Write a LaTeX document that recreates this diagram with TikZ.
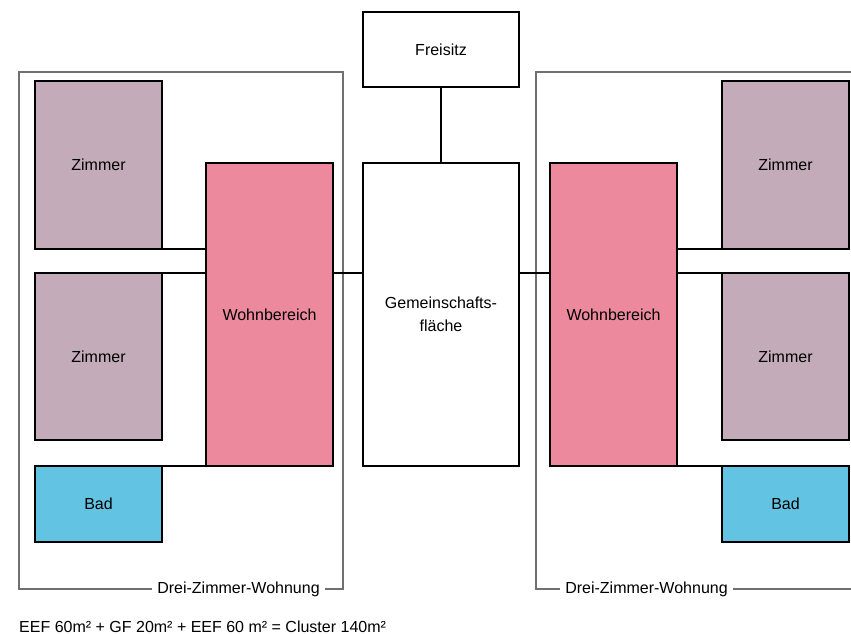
\documentclass[tikz,border=0pt]{standalone}
\usepackage{fontspec}
\setmainfont{Liberation Sans}
\definecolor{zimmerc}{HTML}{C3ABB9}
\definecolor{wohnc}{HTML}{EC899D}
\definecolor{badc}{HTML}{63C3E3}
\definecolor{framec}{HTML}{707070}
\tikzset{
  room/.style={draw=black, line width=1.5pt, inner sep=0pt, outer sep=0pt, align=center,
    font=\fontsize{16}{23}\selectfont},
  zimmerbox/.style={room, fill=zimmerc, minimum width=127pt, minimum height=168pt},
  badbox/.style={room, fill=badc, minimum width=127pt, minimum height=76pt},
  wohnbox/.style={room, fill=wohnc, minimum width=127pt, minimum height=303pt},
  gembox/.style={room, fill=white, minimum width=156pt, minimum height=303pt},
  freibox/.style={room, fill=white, minimum width=156pt, minimum height=75pt},
  link/.style={draw=black, line width=1.5pt},
  framel/.style={draw=framec, line width=1.2pt},
  flabel/.style={fill=white, inner xsep=5pt, inner ysep=2pt, font=\fontsize{16}{19}\selectfont}
}
\begin{document}
\begin{tikzpicture}[x=1pt, y=-1pt]
\useasboundingbox (0,0) rectangle (851,634);
% frames
\draw[framel] (19,72) rectangle (343,589);
\node[flabel] (lab1) at (238.5,589) {Drei-Zimmer-Wohnung};
\draw[framel] (851,72) -- (536,72) -- (536,589) -- (851,589);
\node[flabel] (lab2) at (646.5,589) {Drei-Zimmer-Wohnung};
% rooms
\node[zimmerbox] (z1) at (98.5,165) {Zimmer};
\node[zimmerbox, minimum height=167pt] (z2) at (98.5,356.5) {Zimmer};
\node[badbox] (b1) at (98.5,504) {Bad};
\node[wohnbox] (w1) at (269.5,314.5) {Wohnbereich};
\node[gembox] (g) at (441,314.5) {Gemeinschafts-\\fläche};
\node[freibox] (f) at (441,49.5) {Freisitz};
\node[wohnbox] (w2) at (613.5,314.5) {Wohnbereich};
\node[zimmerbox] (z3) at (785.5,165) {Zimmer};
\node[zimmerbox, minimum height=167pt] (z4) at (785.5,356.5) {Zimmer};
\node[badbox] (b2) at (785.5,504) {Bad};
% connectors
\draw[link] (f.south) -- (g.north);
\draw[link] (z1.south east) -- (z1.south east -| w1.west);
\draw[link] (z2.north east) -- (z2.north east -| w1.west);
\draw[link] (b1.north east) -- (w1.south west);
\draw[link] (w1.east |- z2.north) -- (g.west |- z2.north);
\draw[link] (g.east |- z4.north) -- (w2.west |- z4.north);
\draw[link] (z3.south west -| w2.east) -- (z3.south west);
\draw[link] (z4.north west -| w2.east) -- (z4.north west);
\draw[link] (w2.south east) -- (b2.north west);
% formula
\node[anchor=base west, inner sep=0pt, font=\fontsize{16}{19}\selectfont] (eq) at (19,632) {EEF 60m² + GF 20m² + EEF 60 m² = Cluster 140m²};
\end{tikzpicture}
\end{document}
